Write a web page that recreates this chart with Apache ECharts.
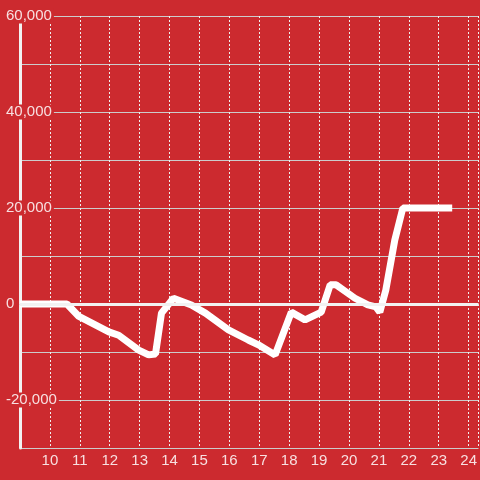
<!DOCTYPE html>
<html>
<head>
<meta charset="utf-8">
<script src="https://cdn.jsdelivr.net/npm/echarts@6/dist/echarts.min.js"></script>
<style>
  html, body { margin: 0; padding: 0; background: #cc2a2f; }
  #main { width: 480px; height: 480px; }
</style>
</head>
<body>
<div id="main"></div>
<script>
var chart = echarts.init(document.getElementById('main'));

// 时间 (小时)
var hours = [9, 10.57, 10.97, 11.97, 12.3, 12.97, 13.3, 13.53, 13.73, 14.13, 14.73, 15.2,
  15.97, 16.63, 16.97, 17.53, 18.07, 18.53, 19.07, 19.37, 19.57, 20.2, 20.63, 20.9,
  21.03, 21.23, 21.53, 21.8, 23.45];
// 数值
var values = [0, 0, -2600, -5800, -6500, -9600, -10600, -10400, -1900, 1200, -200, -1900,
  -5400, -7500, -8500, -10600, -1700, -3300, -1700, 4000, 4000, 1200, -200, -600,
  -1700, 2900, 13300, 20000, 20000];

var labelColor = 'rgba(255,255,255,0.85)';

var option = {
  backgroundColor: '#cc2a2f',
  animation: false,
  grid: { left: 20, right: 0, top: 16, bottom: 32 },
  xAxis: {
    type: 'value',
    min: 9,
    max: 24.33,
    interval: 1,
    axisLine: { lineStyle: { color: '#cccccc', width: 1 } },
    axisTick: { show: false },
    axisLabel: {
      showMinLabel: false,
      showMaxLabel: false,
      color: labelColor,
      fontSize: 15,
      fontFamily: 'Liberation Sans, Arial, sans-serif',
      margin: 5
    },
    splitLine: { show: true, lineStyle: { color: '#f0f0f0', type: [2, 2], width: 1 } }
  },
  yAxis: {
    type: 'value',
    min: -30000,
    max: 60000,
    interval: 10000,
    axisLine: { show: true, lineStyle: { color: '#f2f2f2', width: 3 } },
    axisTick: { show: false },
    axisLabel: {
      align: 'left',
      margin: 14,
      color: labelColor,
      fontSize: 15,
      fontFamily: 'Liberation Sans, Arial, sans-serif',
      backgroundColor: '#cc2a2f',
      padding: [0, 2, 0, 0],
      formatter: function (v) {
        if (v % 20000 !== 0) return '';
        return v.toLocaleString('en-US');
      }
    },
    splitLine: { lineStyle: { color: '#cccccc', width: 1 } }
  },
  series: [
    {
      type: 'line',
      data: hours.map(function (h, i) { return [h, values[i]]; }),
      symbol: 'none',
      lineStyle: { color: '#ffffff', width: 7 },
      markLine: {
        silent: true,
        symbol: 'none',
        label: { show: false },
        lineStyle: { color: '#f2f2f2', width: 3, type: 'solid' },
        data: [{ yAxis: 0 }]
      }
    }
  ]
};

chart.setOption(option);
</script>
</body>
</html>
